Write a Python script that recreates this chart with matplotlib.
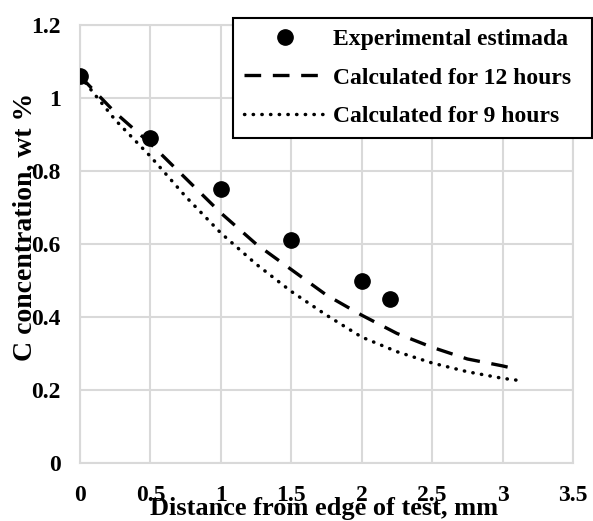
import matplotlib
matplotlib.use("Agg")
import matplotlib.pyplot as plt

exp_x = [0, 0.5, 1, 1.5, 2, 2.2]
exp_y = [1.06, 0.89, 0.75, 0.61, 0.50, 0.45]

calc_x = [0, 0.25, 0.5, 0.75, 1, 1.25, 1.5, 1.75, 2, 2.25, 2.5, 2.75, 3, 3.1]
calc12_y = [1.06, 0.96, 0.875, 0.78, 0.685, 0.60, 0.53, 0.46, 0.405, 0.355, 0.317, 0.285, 0.266, 0.257]
calc9_y = [1.06, 0.94, 0.84, 0.73, 0.63, 0.545, 0.47, 0.405, 0.345, 0.305, 0.274, 0.25, 0.232, 0.227]

xticks = [0, 0.5, 1, 1.5, 2, 2.5, 3, 3.5]
xtick_labels = ["0", "0.5", "1", "1.5", "2", "2.5", "3", "3.5"]
yticks = [0, 0.2, 0.4, 0.6, 0.8, 1.0, 1.2]
ytick_labels = ["0", "0.2", "0.4", "0.6", "0.8", "1", "1.2"]

plt.rcParams['font.family'] = ['Liberation Serif', 'DejaVu Serif']
plt.rcParams['font.weight'] = 'bold'

W, H = 593, 521
fig = plt.figure(figsize=(W / 100, H / 100), dpi=100)
ax = fig.add_axes([80 / W, 1 - 463 / H, (573 - 80) / W, (463 - 25) / H])

gridc = '#d9d9d9'
ax.plot(exp_x, exp_y, 'o', color='black', markersize=11, label='Experimental estimada', zorder=4)
ax.plot(calc_x, calc12_y, color='black', lw=2.4, linestyle=(0, (5, 3.5)), label='Calculated for 12 hours', zorder=3)
ax.plot(calc_x, calc9_y, color='black', lw=2.5, linestyle=(0, (0.1, 2.4)), dash_capstyle='round',
        label='Calculated for 9 hours', zorder=3)

ax.set_xlim(0, 3.5)
ax.set_ylim(0, 1.2)
ax.set_xticks(xticks)
ax.set_xticklabels(xtick_labels)
ax.set_yticks(yticks)
ax.set_yticklabels(ytick_labels)
ax.tick_params(axis='both', length=0, labelsize=17)
ax.tick_params(axis='x', pad=16)
ax.tick_params(axis='y', pad=14)
for lab in ax.get_xticklabels() + ax.get_yticklabels():
    lab.set_fontweight('bold')
ax.grid(True, color=gridc, lw=1.5)
ax.set_axisbelow(True)
for s in ax.spines.values():
    s.set_color(gridc)
    s.set_linewidth(1.5)

fig.text(324 / W, 1 - 509 / H, 'Distance from edge of test, mm', ha='center', va='center',
         fontsize=19, fontweight='bold')
fig.text(25 / W, 1 - 227 / H, 'C concentration, wt %', ha='center', va='center',
         rotation=90, fontsize=20, fontweight='bold')

leg = fig.legend(loc='upper left',
                 bbox_to_anchor=(233 / W, 1 - 137 / H, (592 - 233) / W, (137 - 18) / H),
                 mode='expand', frameon=True,
                 fancybox=False, framealpha=1, edgecolor='black', fontsize=17,
                 handlelength=3.5, borderpad=0.45, labelspacing=0.72, handletextpad=0.3,
                 borderaxespad=0)
leg.get_frame().set_linewidth(1.5)
for t in leg.get_texts():
    t.set_fontweight('bold')

fig.savefig('out.png', dpi=100)
